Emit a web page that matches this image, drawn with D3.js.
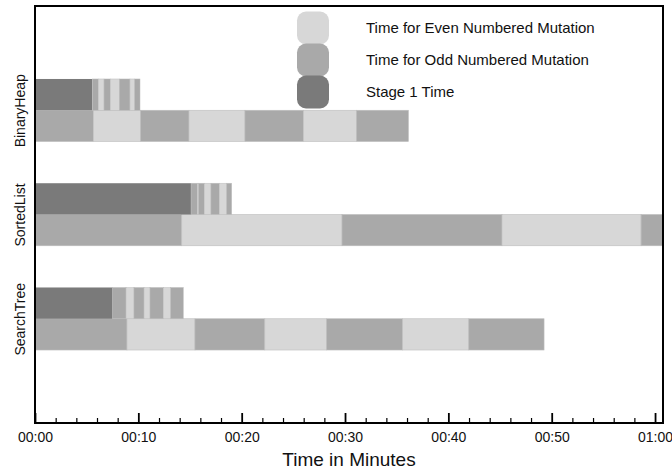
<!DOCTYPE html>
<html>
<head>
<meta charset="utf-8">
<script src="https://cdn.jsdelivr.net/npm/d3@7"></script>
<style>
  html, body { margin: 0; padding: 0; background: #fff; }
  svg { display: block; font-family: "Liberation Sans", Arial, Helvetica, sans-serif; }
</style>
</head>
<body>
<svg id="chart" width="672" height="472"></svg>
<script>
// ---------- data ----------
const categories = ["BinaryHeap", "SortedList", "SearchTree"];
// Stage 1 time (seconds)
const stage1Time = [5.55, 15.10, 7.52];
// Short mutation stripes following stage 1 (durations in seconds, odd/even alternating)
const stage1Mutations = [
  [0.58, 0.55, 0.61, 0.87, 1.03, 0.46, 0.51],
  [0.61, 0.13, 0.54, 0.65, 0.81, 0.71, 0.48],
  [1.29, 0.77, 0.97, 0.58, 1.29, 0.71, 1.22]
];
// Full mutation run (durations in seconds, odd/even alternating)
const mutationTimes = [
  [5.64, 4.59, 4.67, 5.42, 5.65, 5.16, 5.00],
  [14.20, 15.51, 15.48, 13.46, 14.00],
  [8.90, 6.58, 6.76, 5.99, 7.34, 6.41, 7.28]
];
const majorTicks = [0, 10, 20, 30, 40, 50, 60];
const tickLabels = ["00:00", "00:10", "00:20", "00:30", "00:40", "00:50", "01:00"];
const minorTicks = [2, 4, 6, 8, 12, 14, 16, 18, 22, 24, 26, 28, 32, 34, 36, 38, 42, 44, 46, 48, 52, 54, 56, 58];
const legendLabels = ["Time for Even Numbered Mutation", "Time for Odd Numbered Mutation", "Stage 1 Time"];
const xTitle = "Time in Minutes";

// ---------- styles ----------
const colEven = "#d7d7d7", colOdd = "#a9a9a9", colStage = "#7a7a7a";
const legendColors = [colEven, colOdd, colStage];

const svg = d3.select("#chart");
const L = 35, R = 663, T = 6, B = 423;

const x = d3.scaleLinear().domain([0, 60.77]).range([L, R]);
const y = d3.scaleLinear().domain([0, 4]).range([T, B]);
const half = 0.3;

svg.append("defs").append("clipPath").attr("id", "plotclip")
  .append("rect").attr("x", L).attr("y", T).attr("width", R - L).attr("height", B - T);

const plot = svg.append("g").attr("clip-path", "url(#plotclip)");

function segments(start, durs) {
  let s = start;
  return durs.map((d, i) => { const o = { x0: s, x1: s + d, odd: i % 2 === 0 }; s += d; return o; });
}

categories.forEach((cat, ci) => {
  const c = ci + 1;
  const low = segments(0, mutationTimes[ci]);
  plot.selectAll(null).data(low).enter().append("rect")
    .attr("x", d => x(d.x0)).attr("width", d => x(d.x1) - x(d.x0))
    .attr("y", y(c)).attr("height", y(c + half) - y(c))
    .attr("fill", d => d.odd ? colOdd : colEven)
    .attr("stroke", "#bdbdbd").attr("stroke-width", 0.6);
  plot.append("rect")
    .attr("x", x(0)).attr("width", x(stage1Time[ci]) - x(0))
    .attr("y", y(c - half)).attr("height", y(c) - y(c - half))
    .attr("fill", colStage);
  const up = segments(stage1Time[ci], stage1Mutations[ci]);
  plot.selectAll(null).data(up).enter().append("rect")
    .attr("x", d => x(d.x0)).attr("width", d => x(d.x1) - x(d.x0))
    .attr("y", y(c - half)).attr("height", y(c) - y(c - half))
    .attr("fill", d => d.odd ? colOdd : colEven)
    .attr("stroke", "#bdbdbd").attr("stroke-width", 0.5);
});

// legend
const lg = svg.append("g");
legendLabels.forEach((lab, i) => {
  const cy = 28 + i * 32;
  lg.append("rect").attr("x", 297).attr("y", cy - 16.5).attr("width", 32).attr("height", 33)
    .attr("rx", 9).attr("ry", 9).attr("fill", legendColors[i]);
  lg.append("text").attr("x", 366).attr("y", cy).attr("dy", "0.35em")
    .attr("font-size", 15).attr("fill", "#111").text(lab);
});

// axes (ticks pointing inward)
const axMinor = d3.axisBottom(x).tickValues(minorTicks).tickSize(-5).tickFormat("");
const gMinor = svg.append("g").attr("transform", `translate(0,${B})`).call(axMinor);
gMinor.select(".domain").remove();
gMinor.selectAll("line").attr("stroke", "#000").attr("stroke-width", 1.2);

const axMajor = d3.axisBottom(x).tickValues(majorTicks).tickSize(-10).tickPadding(9)
  .tickFormat((d, i) => tickLabels[i]);
const gMajor = svg.append("g").attr("transform", `translate(0,${B})`).call(axMajor);
gMajor.select(".domain").remove();
gMajor.selectAll("line").attr("stroke", "#000").attr("stroke-width", 1.8);
gMajor.selectAll("text").attr("font-size", 14).attr("font-family", "Liberation Sans, Arial, sans-serif").attr("fill", "#111");

// y category labels
const yAx = d3.axisLeft(y).tickValues(categories.map((c, i) => i + 1)).tickSize(0)
  .tickFormat((d) => categories[d - 1]);
const gY = svg.append("g").attr("transform", `translate(${L},0)`).call(yAx);
gY.select(".domain").remove();
gY.selectAll("text")
  .attr("font-size", 14).attr("font-family", "Liberation Sans, Arial, sans-serif").attr("fill", "#111")
  .attr("text-anchor", "middle")
  .attr("dy", null).attr("x", null)
  .attr("transform", "translate(-10,0) rotate(-90)");

// frame
svg.append("rect").attr("x", L).attr("y", T).attr("width", R - L).attr("height", B - T)
  .attr("fill", "none").attr("stroke", "#000").attr("stroke-width", 2);

// x title
svg.append("text").attr("x", (L + R) / 2).attr("y", 466).attr("text-anchor", "middle")
  .attr("font-size", 19).attr("fill", "#111").text(xTitle);
</script>
</body>
</html>
